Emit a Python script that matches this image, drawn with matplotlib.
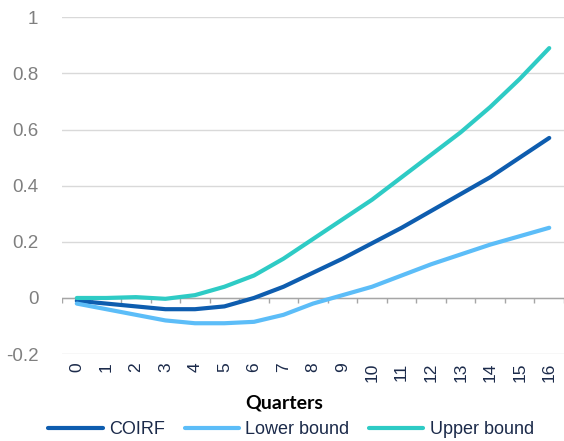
import numpy as np
import matplotlib.pyplot as plt

quarters = list(range(17))
coirf = [-0.01, -0.02, -0.03, -0.04, -0.04, -0.03, 0.0, 0.04, 0.09, 0.14, 0.195,
         0.25, 0.31, 0.37, 0.43, 0.50, 0.57]
lower = [-0.02, -0.04, -0.06, -0.08, -0.09, -0.09, -0.085, -0.06, -0.02, 0.01, 0.04,
         0.08, 0.12, 0.155, 0.19, 0.22, 0.25]
upper = [0.0, 0.0, 0.003, -0.003, 0.01, 0.04, 0.08, 0.14, 0.21, 0.28, 0.35,
         0.43, 0.51, 0.59, 0.68, 0.78, 0.89]
yticks = [-0.2, 0, 0.2, 0.4, 0.6, 0.8, 1]
ytick_labels = ['-0.2', '0', '0.2', '0.4', '0.6', '0.8', '1']

navy = '#1B2A4A'
plt.rcParams['font.family'] = ['Liberation Sans', 'DejaVu Sans']

fig = plt.figure(figsize=[5.64, 4.41], dpi=100)
ax = fig.add_axes([0.11, 0.197, 0.89, 0.764])

ax.plot(quarters, coirf, color='#0E5DAF', lw=3, label='COIRF', solid_capstyle='round')
ax.plot(quarters, lower, color='#5CBDF8', lw=3, label='Lower bound', solid_capstyle='round')
ax.plot(quarters, upper, color='#2ECBC5', lw=3, label='Upper bound', solid_capstyle='round')

ax.set_xlim(-0.5, 16.5)
ax.set_ylim(-0.2, 1)
ax.set_yticks(yticks)
ax.set_yticklabels(ytick_labels)
ax.grid(axis='y', color='#D9D9D9', lw=1)
ax.set_axisbelow(True)
for s in ax.spines.values():
    s.set_visible(False)

# zero line with category boundary ticks
ax.axhline(0, color='#A6A6A6', lw=1, zorder=1)
bounds = np.arange(-0.5, 17, 1)
ax.vlines(bounds, -0.018, 0, color='#A6A6A6', lw=1, zorder=1)

ax.set_xticks(quarters)
ax.set_xticklabels([str(q) for q in quarters], rotation=90, color=navy, fontsize=12.5)
ax.tick_params(axis='x', length=0, pad=6)
ax.tick_params(axis='y', length=0, labelcolor='#7F7F7F', labelsize=13.5, pad=17)

fig.text(0.503, 0.086, 'Quarters', fontsize=14, fontweight='bold',
         family=['Lato', 'DejaVu Sans'], color='black', ha='center', va='center')

leg = fig.legend(loc='center', bbox_to_anchor=(0.516, 0.025), ncol=3, frameon=False,
                 fontsize=13, handlelength=3.0, handletextpad=0.35, columnspacing=1.1,
                 borderaxespad=0, borderpad=0)
for t in leg.get_texts():
    t.set_color(navy)

fig.savefig('out.png', dpi=100)
